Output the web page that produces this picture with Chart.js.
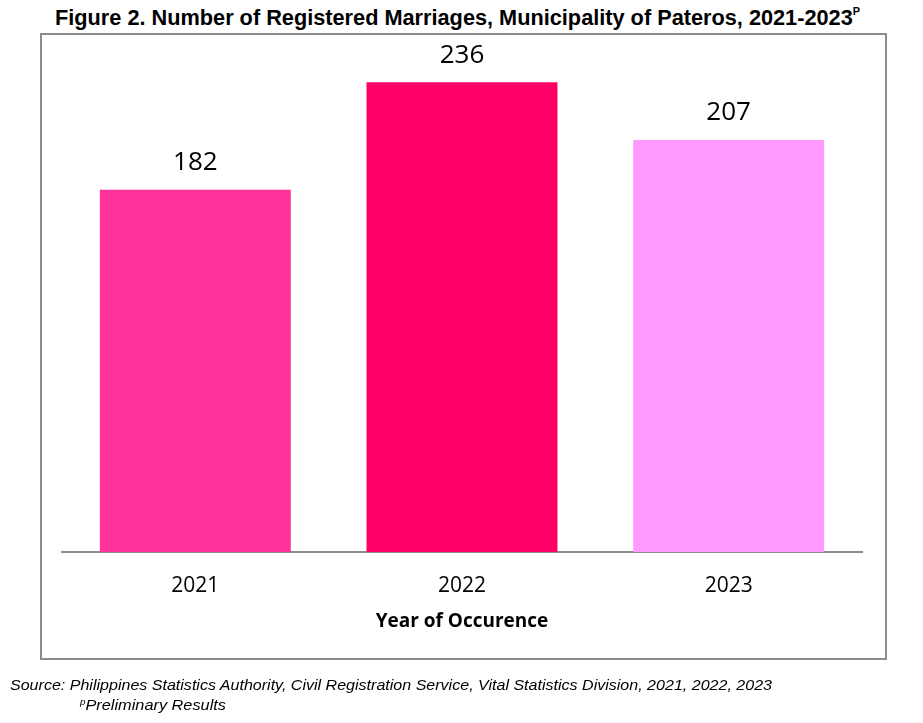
<!DOCTYPE html>
<html>
<head>
<meta charset="utf-8">
<script src="https://cdn.jsdelivr.net/npm/chart.js@4.4.1/dist/chart.umd.min.js"></script>
<style>
  html, body { margin:0; padding:0; background:#fff; }
  #page { position:relative; width:923px; height:723px; overflow:hidden; }
  #title { position:absolute; left:0; top:6px; white-space:nowrap; font-family:"Liberation Sans", Arial, sans-serif; font-weight:bold; font-size:22px; color:#000; transform-origin:0 0; }
  #title sup { font-size:11px; vertical-align:10px; line-height:0; }
  #box { position:absolute; left:40px; top:33px; width:843px; height:623px; border:2px solid #8c8c8c; }
  #chart { position:absolute; left:0; top:0; }
  .src { position:absolute; white-space:nowrap; font-family:"Liberation Sans", Arial, sans-serif; font-style:italic; font-size:15px; color:#000; transform-origin:0 0; }
  .src sup { font-size:9px; vertical-align:5px; line-height:0; }
</style>
</head>
<body>
<div id="page">
  <div id="title">Figure 2. Number of Registered Marriages, Municipality of Pateros, 2021-2023<sup>P</sup></div>
  <div id="box"></div>
  <canvas id="chart" width="923" height="723"></canvas>
  <div class="src" id="src1">Source: Philippines Statistics Authority, Civil Registration Service, Vital Statistics Division, 2021, 2022, 2023</div>
  <div class="src" id="src2"><sup>p</sup>Preliminary Results</div>
</div>
<script>
const years = ['2021', '2022', '2023'];
const marriages = [182, 236, 207];
const barColors = ['#FF3399', '#FF0066', '#FF99FF'];
const axisTitle = 'Year of Occurence';

// squeeze the narrow-looking texts to the widths seen in the reference
function fitWidth(id, left, top, width){
    const el = document.getElementById(id);
    const w = el.getBoundingClientRect().width;
    el.style.left = left + 'px';
    el.style.top = top + 'px';
    el.style.transform = 'scaleX(' + (width / w) + ')';
}
fitWidth('title', 55, 5, 805);
fitWidth('src1', 10, 676, 762);
fitWidth('src2', 80, 696, 146);

const valueLabels = {
    id:'valueLabels',
    afterDatasetsDraw(chart){
        const ctx = chart.ctx;
        const meta = chart.getDatasetMeta(0);
        ctx.save();
        ctx.font = '26px "Open Sans", sans-serif';
        ctx.fillStyle = '#000';
        ctx.textAlign = 'center';
        ctx.textBaseline = 'middle';
        meta.data.forEach((bar, i) => {
            ctx.fillText(marriages[i], bar.x, bar.y - 27);
        });
        ctx.restore();
    }
};

const ctx = document.getElementById('chart').getContext('2d');
new Chart(ctx, {
    type:'bar',
    data:{
        labels:years,
        datasets:[{
            data:marriages,
            backgroundColor:barColors,
            borderWidth:0,
            barPercentage:0.716,
            categoryPercentage:1
        }]
    },
    options:{
        responsive:false,
        animation:false,
        layout:{ padding:{ left:62, right:61, top:54.5, bottom:86 } },
        plugins:{ legend:{ display:false }, tooltip:{ enabled:false } },
        scales:{
            y:{
                display:false,
                min:0,
                max:250
            },
            x:{
                grid:{ display:false, drawTicks:false },
                border:{ display:true, color:'#8c8c8c', width:2 },
                ticks:{ padding:21, color:'#000', font:{ family:'"Open Sans", sans-serif', size:21 } },
                title:{
                    display:true,
                    text:axisTitle,
                    color:'#000',
                    padding:{ top:-9, bottom:4 },
                    font:{ family:'"Open Sans", sans-serif', size:19, weight:'bold' }
                }
            }
        }
    },
    plugins:[valueLabels]
});
</script>
</body>
</html>
